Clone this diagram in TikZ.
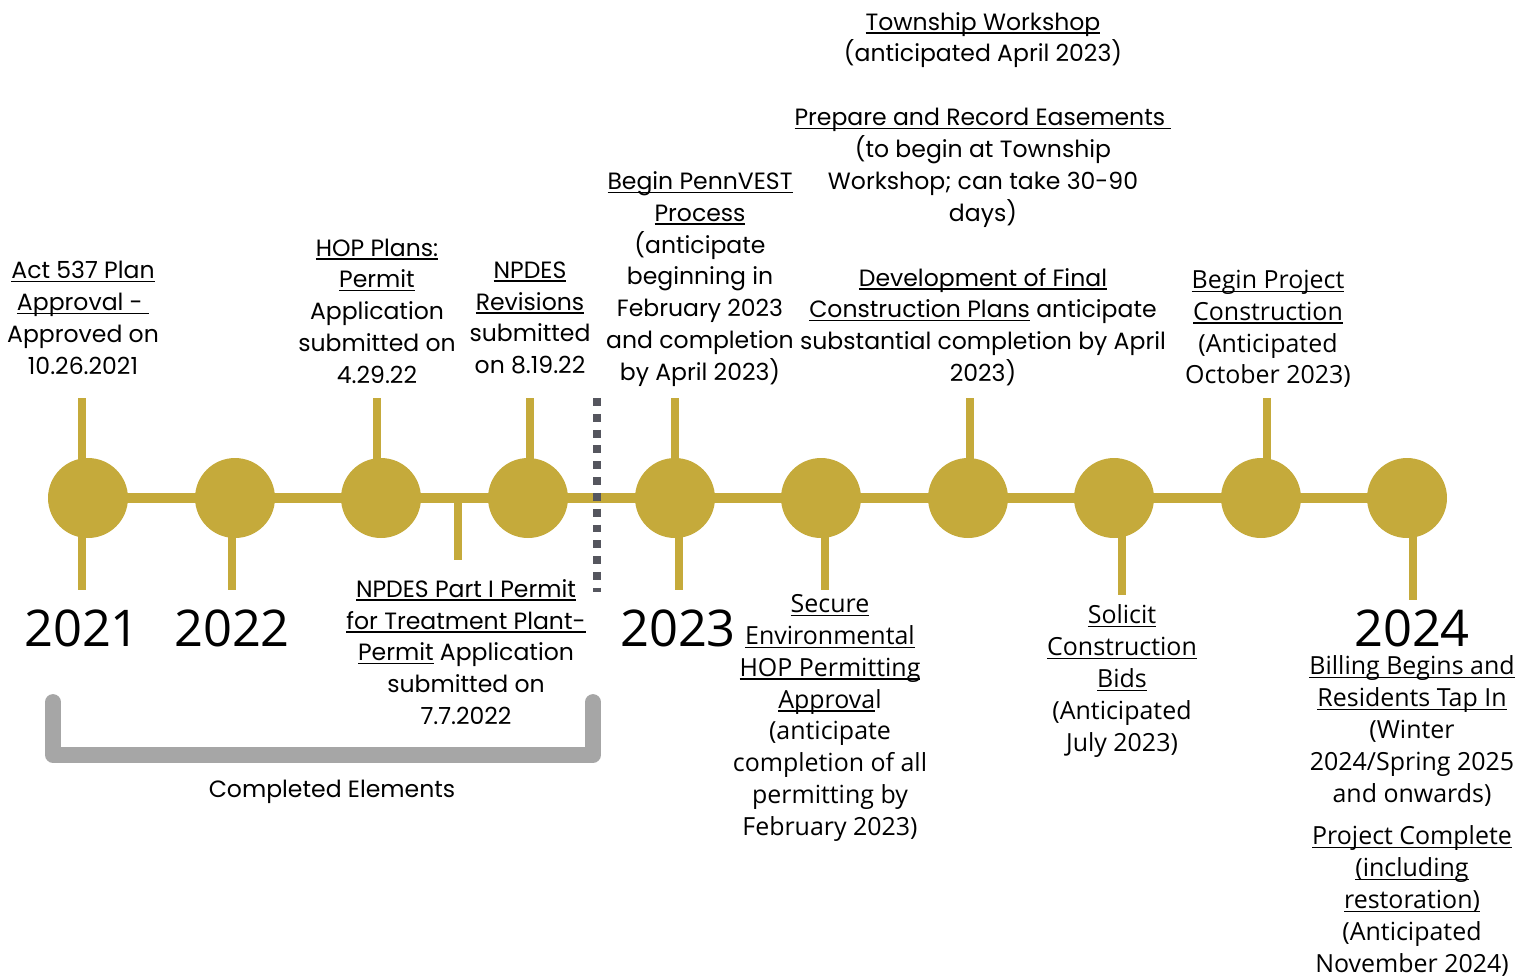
\documentclass[tikz,border=0pt]{standalone}
\usepackage{fontspec}
\setmainfont{Poppins}
\newfontfamily\opensans{Open Sans}
\definecolor{gold}{HTML}{C5AA3B}
\definecolor{bracketgray}{HTML}{A6A6A6}
\definecolor{sepgray}{HTML}{55565E}
\newcommand\uln[1]{\setbox0\hbox{#1}\rlap{\rule[-2pt]{\wd0}{0.8pt}}\box0}
\tikzset{
  dot/.style={circle,fill=gold,minimum size=1.6cm,inner sep=0pt},
  tline/.style={gold,line width=5.7pt},
  stem/.style={gold,line width=4.5pt},
  txt/.style={align=center,inner sep=0pt,font=\fontsize{13.4}{18.1}\selectfont},
  txo/.style={align=center,inner sep=0pt,font=\opensans\fontsize{14.2}{18.1}\selectfont},
  yr/.style={inner sep=0pt,font=\opensans\fontsize{28.8}{30}\selectfont},
}

\begin{document}
\begin{tikzpicture}[x=0.02cm,y=-0.02cm]
\useasboundingbox (0,0) rectangle (1532,975);

% timeline
\foreach \x/\n in {88/1,235/2,381/3,528/4,675/5,821/6,968/7,1114/8,1261/9,1407/10}
  \coordinate (c\n) at (\x,498);
\draw[tline] (c1) -- (c10);
\foreach \x in {82,377,530,675,970,1267}
  \draw[stem] (\x,398) -- (\x,460);
\foreach \x/\b in {82/590,232/590,458/560,679/590,825/590,1122/595,1413/600}
  \draw[stem] (\x,498) -- (\x,\b);
\foreach \n in {1,...,10}
  \node[dot] (d\n) at (c\n) {};

% completed / upcoming split
\draw[sepgray,line width=4pt,dash pattern=on 4.5pt off 4.5pt] (597,398) -- (597,592);
\draw[bracketgray,line width=9pt,line cap=round,line join=round]
  (53,702) -- (53,755) -- (593,755) -- (593,702);
\node[txt] (done) at (332,792) {Completed Elements};

% years
\node[yr] (y2021) at (82,628) {2021};
\node[yr] (y2022) at (232,628) {2022};
\node[yr] (y2023) at (678,628) {2023};
\node[yr] (y2024) at (1412,628) {2024};

% above the line
\node[txt] (act) at (83,318) {\uln{Act 537 Plan}\\\uln{Approval - }\\Approved on\\10.26.2021};
\node[txt] (hop) at (377,311) {\uln{HOP Plans:}\\\uln{Permit}\\Application\\submitted on\\4.29.22};
\node[txt] (rev) at (530,318) {\uln{NPDES}\\\uln{Revisions}\\submitted\\on 8.19.22};
\node[txt] (penn) at (700,279) {\uln{Begin PennVEST}\\\uln{Process}\\(anticipate\\beginning in\\February 2023\\and completion\\by April 2023)};
\node[txt] (shop) at (983,40) {\uln{Township Workshop}\\(anticipated April 2023)};
\node[txt] (ease) at (983,168) {\uln{Prepare and Record Easements }\\(to begin at Township\\Workshop; can take 30-90\\days)};
\node[txt] (plans) at (983,327) {\uln{Development of Final}\\\uln{Construction Plans}\ anticipate\\substantial completion by April\\2023)};
\node[txo] (build) at (1268,329) {\uln{Begin Project}\\\uln{Construction}\\(Anticipated\\October 2023)};

% below the line
\node[txt] (part1) at (466,652) {\uln{NPDES Part I Permit}\\\uln{for Treatment Plant-}\\\uln{Permit}\ Application\\submitted on\\7.7.2022};
\node[txo] (env) at (830,718) {\uln{Secure}\\\uln{Environmental}\\\uln{HOP Permitting}\\\uln{Approva}l\\(anticipate\\completion of all\\permitting by\\February 2023)};
\node[txo] (bids) at (1122,681) {\uln{Solicit}\\\uln{Construction}\\\uln{Bids}\\(Anticipated\\July 2023)};
\node[txo] (bill) at (1412,731) {\uln{Billing Begins and}\\\uln{Residents Tap In}\\(Winter\\2024/Spring 2025\\and onwards)};
\node[txo] (fin) at (1412,901) {\uln{Project Complete}\\\uln{(including}\\\uln{restoration)}\\(Anticipated\\November 2024)};
\end{tikzpicture}
\end{document}
